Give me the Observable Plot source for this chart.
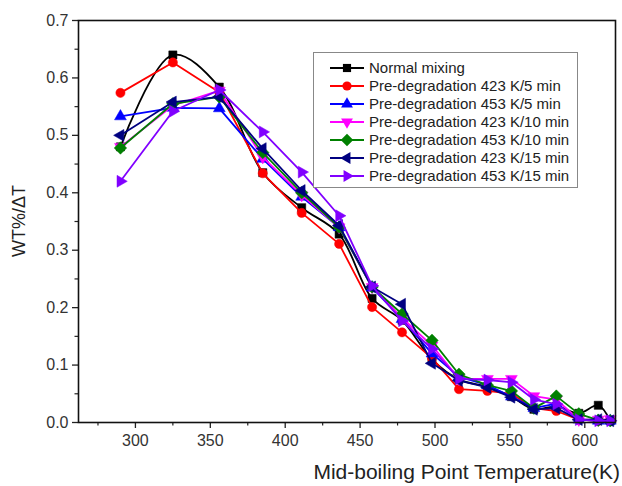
<!DOCTYPE html>
<html>
<head>
<meta charset="utf-8">
<script src="https://cdn.jsdelivr.net/npm/d3@7"></script>
<script src="https://cdn.jsdelivr.net/npm/@observablehq/plot@0.6"></script>
<style>
  html, body { margin: 0; padding: 0; background: #fff; }
  #chart { position: relative; width: 622px; height: 486px; }
</style>
</head>
<body>
<div id="chart"></div>
<script>
// ---- data ----
const temps = [290, 325, 356, 385, 411, 436, 458, 478, 498, 516, 535, 551, 566, 581, 596, 609, 617];
const seriesNames = [
  "Normal mixing",
  "Pre-degradation 423 K/5 min",
  "Pre-degradation 453 K/5 min",
  "Pre-degradation 423 K/10 min",
  "Pre-degradation 453 K/10 min",
  "Pre-degradation 423 K/15 min",
  "Pre-degradation 453 K/15 min"
];
const normalMixing = [0.480, 0.640, 0.584, 0.435, 0.374, 0.328, 0.216, 0.178, 0.110, 0.075, 0.062, 0.045, 0.023, 0.028, 0.016, 0.030, 0.003];
const pre423_5  = [0.574, 0.627, 0.575, 0.434, 0.365, 0.311, 0.201, 0.157, 0.112, 0.058, 0.055, 0.050, 0.025, 0.020, 0.005, 0.003, 0.003];
const pre453_5  = [0.533, 0.548, 0.547, 0.459, 0.393, 0.340, 0.235, 0.180, 0.120, 0.080, 0.065, 0.045, 0.025, 0.033, 0.005, 0.003, 0.003];
const pre423_10 = [0.480, 0.552, 0.578, 0.462, 0.396, 0.340, 0.236, 0.182, 0.134, 0.076, 0.076, 0.076, 0.046, 0.040, 0.005, 0.005, 0.006];
const pre453_10 = [0.478, 0.555, 0.567, 0.470, 0.400, 0.340, 0.236, 0.189, 0.143, 0.084, 0.065, 0.055, 0.025, 0.046, 0.015, 0.004, 0.003];
const pre423_15 = [0.500, 0.558, 0.567, 0.477, 0.404, 0.343, 0.236, 0.206, 0.103, 0.073, 0.061, 0.044, 0.023, 0.025, 0.005, 0.005, 0.003];
const pre453_15 = [0.420, 0.542, 0.579, 0.506, 0.436, 0.360, 0.238, 0.177, 0.128, 0.076, 0.074, 0.070, 0.040, 0.032, 0.005, 0.003, 0.003];
const seriesValues = [normalMixing, pre423_5, pre453_5, pre423_10, pre453_10, pre423_15, pre453_15];
const xTicks = [300, 350, 400, 450, 500, 550, 600];
const yTicks = [0, 0.1, 0.2, 0.3, 0.4, 0.5, 0.6, 0.7];

// ---- styles ----
const colors = ["#000000", "#ff0000", "#0000ff", "#ff00ff", "#008000", "#000080", "#8000ff"];
const sqrt3 = Math.sqrt(3);
function triangle(angle) {
  return {
    draw(ctx, size) {
      const y = -Math.sqrt(size / (sqrt3 * 3));
      const pts = [[0, y * 2], [-sqrt3 * y, -y], [sqrt3 * y, -y]];
      const c = Math.cos(angle), s = Math.sin(angle);
      pts.forEach(([px, py], i) => {
        const rx = px * c - py * s, ry = px * s + py * c;
        if (i === 0) ctx.moveTo(rx, ry); else ctx.lineTo(rx, ry);
      });
      ctx.closePath();
    }
  };
}
const diamond = {
  draw(ctx, size) {
    const r = Math.sqrt(size / 2);
    ctx.moveTo(0, -r); ctx.lineTo(r, 0); ctx.lineTo(0, r); ctx.lineTo(-r, 0); ctx.closePath();
  }
};
const symbols = [d3.symbolSquare, d3.symbolCircle, triangle(0), triangle(Math.PI), diamond, triangle(-Math.PI / 2), triangle(Math.PI / 2)];
const radii = [4.6, 4.6, 4.4, 4.4, 5, 4.4, 4.4];

const table = [];
seriesNames.forEach((name, i) => {
  temps.forEach((t, j) => table.push({series: name, idx: i, T: t, v: seriesValues[i][j]}));
});

const marks = [];
seriesNames.forEach((name, i) => {
  const data = table.filter(d => d.idx === i);
  marks.push(Plot.line(data, {
    x: "T", y: "v", stroke: colors[i], strokeWidth: 1.8,
    curve: i === 0 ? "catmull-rom" : "linear"
  }));
  marks.push(Plot.dot(data, {
    x: "T", y: "v", fill: colors[i], stroke: colors[i], strokeWidth: 0.5,
    symbol: symbols[i], r: radii[i]
  }));
});

const minorX = d3.range(275, 621, 50);
const minorY = d3.range(0.05, 0.7, 0.1);

const chart = Plot.plot({
  width: 622,
  height: 486,
  marginLeft: 78,
  marginRight: 7,
  marginTop: 20,
  marginBottom: 64,
  style: {fontFamily: "Arial, 'Liberation Sans', sans-serif", fontSize: "16px", color: "#333", background: "#fff"},
  x: {domain: [262, 620.5]},
  y: {domain: [0, 0.7]},
  marks: [
    Plot.axisX(xTicks, {tickSize: 6, tickPadding: 6, fontSize: 16, fill: "#333", stroke: "#222", strokeWidth: 1.3, label: null}),
    Plot.axisX(minorX, {tickSize: 3.5, tickFormat: () => "", stroke: "#222", strokeWidth: 1.2, label: null}),
    Plot.axisY(yTicks, {tickSize: 6, tickPadding: 4, tickFormat: ".1f", fontSize: 16, fill: "#333", stroke: "#222", strokeWidth: 1.3, label: null}),
    Plot.axisY(minorY, {tickSize: 3.5, tickFormat: () => "", stroke: "#222", strokeWidth: 1.2, label: null}),
    ...marks,
    Plot.frame({stroke: "#111", strokeWidth: 1.6})
  ]
});
document.getElementById("chart").appendChild(chart);

// ---- axis titles and legend ----
const svg = d3.select(chart);
svg.append("text")
  .attr("x", 620).attr("y", 479)
  .attr("text-anchor", "end")
  .style("font-size", "21px").style("fill", "#222")
  .text("Mid-boiling Point Temperature(K)");
svg.append("text")
  .attr("transform", "translate(25,221) rotate(-90)")
  .attr("text-anchor", "middle")
  .style("font-size", "18px").style("fill", "#222")
  .text("WT%/ΔT");

const lg = svg.append("g").attr("text-anchor", "start");
lg.append("rect").attr("x", 313.5).attr("y", 52.5).attr("width", 264).attr("height", 135)
  .attr("fill", "#fff").attr("stroke", "#888").attr("stroke-width", 1);
seriesNames.forEach((name, i) => {
  const cy = 68 + i * 18;
  lg.append("line").attr("x1", 330).attr("x2", 364).attr("y1", cy).attr("y2", cy)
    .attr("stroke", colors[i]).attr("stroke-width", 1.8);
  lg.append("path").attr("transform", `translate(347,${cy})`)
    .attr("d", d3.symbol(symbols[i], Math.PI * radii[i] * radii[i])())
    .attr("fill", colors[i]);
  lg.append("text").attr("x", 369).attr("y", cy).attr("dy", "0.35em")
    .attr("text-anchor", "start")
    .style("font-size", "15px").style("fill", "#222").text(name);
});
</script>
</body>
</html>
